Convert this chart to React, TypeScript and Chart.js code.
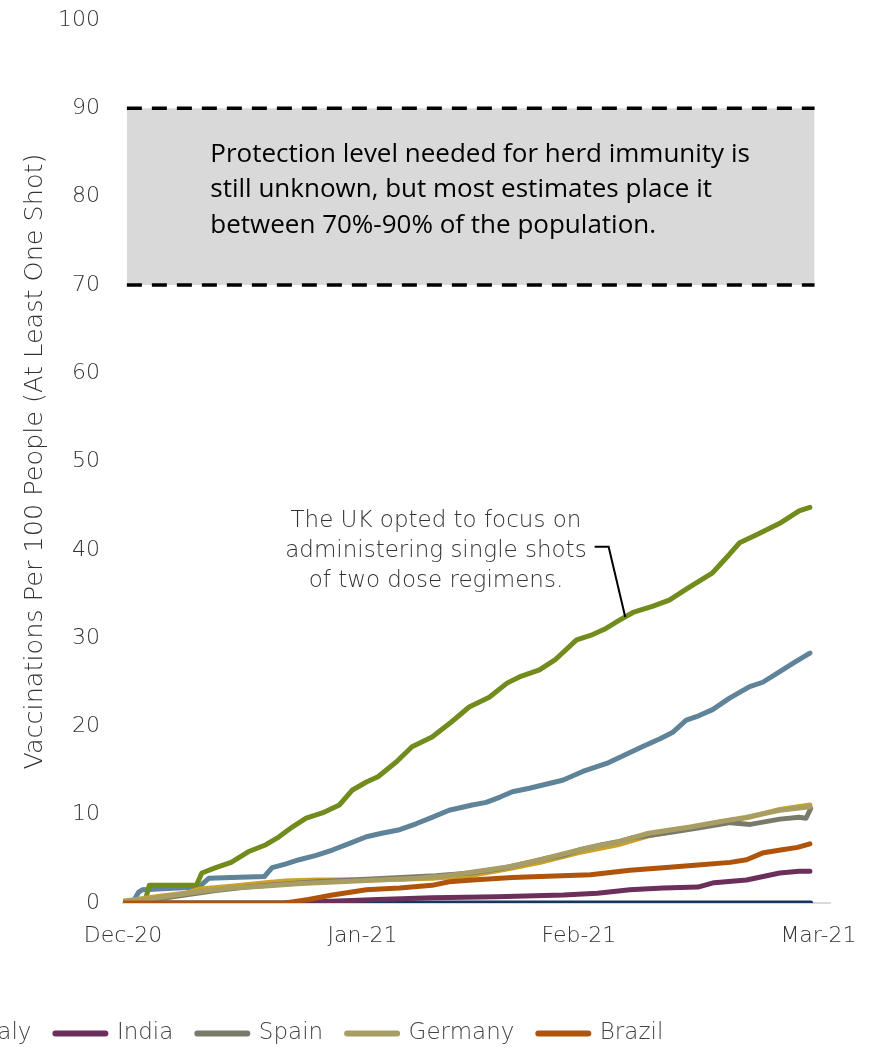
import { useEffect, useRef } from "react";
import { Chart, registerables } from "chart.js";

Chart.register(...registerables);

// Days counted from the first x-axis tick; ticks sit at month ends.
const tickDays = [0, 31, 59, 90];
const tickLabels = ["Dec-20", "Jan-21", "Feb-21", "Mar-21"];

const ukDays = [2.8, 3.4, 9.5, 10.2, 12, 14, 16.2, 18.5, 20.2, 21.9, 23.7, 25.8, 28, 29.7, 31.5, 33, 35.4, 37.4, 40, 42.5, 44.8, 47.4, 49.7, 51.3, 53.9, 56, 58.7, 60.5, 62.3, 64.2, 66, 68.5, 70.7, 73, 76.3, 78.5, 79.8, 82, 85, 87.5, 88.9];
const ukValues = [0, 2.0, 2.0, 3.4, 4.0, 4.6, 5.8, 6.6, 7.5, 8.6, 9.6, 10.2, 11.1, 12.8, 13.7, 14.3, 16.0, 17.7, 18.8, 20.5, 22.2, 23.3, 24.9, 25.6, 26.4, 27.6, 29.8, 30.3, 31.0, 32.0, 32.9, 33.6, 34.3, 35.6, 37.4, 39.5, 40.8, 41.7, 43.0, 44.4, 44.8];

const usDays = [1.2, 2.0, 2.5, 9.8, 11.1, 14.1, 18.3, 19.3, 21, 22.8, 25, 27.1, 29.5, 31.5, 33.5, 35.8, 38, 40, 42.2, 45.2, 47, 48.8, 50.4, 52.6, 55, 56.9, 59.5, 62.6, 65, 67.2, 69.5, 71.1, 72.9, 74.5, 76.3, 78.5, 81.1, 82.8, 85, 87, 88.9];
const usValues = [0, 1.2, 1.5, 1.8, 2.8, 2.9, 3.0, 4.0, 4.4, 4.9, 5.4, 6.0, 6.8, 7.5, 7.9, 8.3, 9.0, 9.7, 10.5, 11.1, 11.4, 12.0, 12.6, 13.0, 13.5, 13.9, 14.9, 15.8, 16.8, 17.7, 18.6, 19.3, 20.7, 21.2, 21.9, 23.2, 24.5, 25.0, 26.2, 27.3, 28.3];

const japanDays = [0, 89];
const japanValues = [0, 0];

const italyDays = [0, 5, 8, 10, 14, 18.5, 21, 25, 31, 36, 40, 45, 50, 54, 59, 64, 68, 73, 77, 81, 85, 88.9];
const italyValues = [0.2, 0.8, 1.1, 1.6, 1.9, 2.3, 2.5, 2.6, 2.6, 2.7, 2.8, 3.1, 3.9, 4.6, 5.7, 6.6, 7.6, 8.4, 9.1, 9.7, 10.6, 11.1];

const indiaDays = [21, 27, 33, 40, 48.4, 57, 61.4, 65.6, 69.9, 74.4, 76.5, 80.7, 85, 87.5, 88.9];
const indiaValues = [0, 0.2, 0.4, 0.6, 0.7, 0.9, 1.1, 1.5, 1.7, 1.8, 2.3, 2.6, 3.4, 3.6, 3.6];

const spainDays = [0, 4, 8, 12, 16, 20, 25, 31.5, 36, 40.5, 45, 49, 52.6, 55, 56.9, 59, 62, 63.9, 66, 70.9, 74.4, 78.6, 81.2, 85, 87.5, 88.4, 89];
const spainValues = [0.1, 0.4, 0.9, 1.4, 1.8, 2.1, 2.4, 2.7, 2.9, 3.1, 3.4, 3.9, 4.6, 5.1, 5.4, 6.0, 6.6, 6.9, 7.4, 8.0, 8.5, 9.1, 8.9, 9.5, 9.7, 9.6, 10.7];

const germanyDays = [0, 3, 6, 10, 14, 18, 23, 28, 33, 38, 42, 46, 50, 54, 59, 64, 68, 73.4, 77.2, 80.6, 85, 88.9];
const germanyValues = [0.2, 0.4, 0.8, 1.3, 1.7, 1.9, 2.2, 2.4, 2.6, 2.8, 3.1, 3.6, 4.1, 4.9, 6.0, 6.9, 7.9, 8.6, 9.2, 9.7, 10.5, 10.9];

const brazilDays = [0, 21, 24, 27.1, 31.5, 35.8, 40, 42.2, 45.2, 50.4, 54, 60.5, 65.6, 69.9, 74.4, 78.6, 80.7, 82.9, 85.1, 87.3, 88.9];
const brazilValues = [0, 0, 0.4, 0.9, 1.5, 1.7, 2.0, 2.4, 2.6, 2.9, 3.0, 3.2, 3.7, 4.0, 4.3, 4.6, 4.9, 5.7, 6.0, 6.3, 6.7];

// Herd-immunity band (per 100 people)
const bandDays = [0.5, 89.5];
const bandLow = [70, 70];
const bandHigh = [90, 90];

const legendOrder = ["Italy", "India", "Spain", "Germany", "Brazil"];

const bandNote = [
  "Protection level needed for herd immunity is",
  "still unknown, but most estimates place it",
  "between 70%-90% of the population.",
];
const ukNote = ["The UK opted to focus on", "administering single shots", "of two dose regimens."];
const ukNoteDay = 65;

// Canvas is wider than the page on the left so the legend row starts off-screen.
const SHIFT = 104;
const PAGE_W = 884;
const PAGE_H = 1049;
const CANVAS_H = 1090;

const FONT = "'DejaVu Sans', sans-serif";
const TEXT = "#333333";

const pts = (d: number[], v: number[]) => d.map((x, i) => ({ x, y: v[i] }));

function interp(days: number[], values: number[], d: number) {
  for (let i = 1; i < days.length; i++) {
    if (d <= days[i]) {
      const t = (d - days[i - 1]) / (days[i] - days[i - 1]);
      return values[i - 1] + t * (values[i] - values[i - 1]);
    }
  }
  return values[values.length - 1];
}

const series = (label: string, color: string, d: number[], v: number[]) => ({
  label,
  data: pts(d, v),
  borderColor: color,
  backgroundColor: color,
  borderWidth: 5,
  borderCapStyle: "round" as const,
  borderJoinStyle: "round" as const,
  pointRadius: 0,
  tension: 0,
  fill: false,
});

const notesPlugin = {
  id: "notes",
  afterDatasetsDraw(chart: any) {
    const { ctx, scales } = chart;
    const x = scales.x;
    const y = scales.y;
    ctx.save();

    // text inside the band
    ctx.font = "26px 'Open Sans', sans-serif";
    ctx.fillStyle = "#000000";
    ctx.textAlign = "left";
    ctx.textBaseline = "middle";
    const bx = x.getPixelForValue(11.3);
    const by = y.getPixelForValue(84.8);
    bandNote.forEach((t, i) => ctx.fillText(t, bx, by + i * 35.5));

    // UK callout
    ctx.font = `200 23px ${FONT}`;
    ctx.fillStyle = TEXT;
    ctx.textAlign = "center";
    const cx = x.getPixelForValue(40.5);
    const cy = y.getPixelForValue(43.3);
    ukNote.forEach((t, i) => ctx.fillText(t, cx, cy + i * 30));
    const w2 = ctx.measureText(ukNote[1]).width;
    const sx = cx + w2 / 2 + 8;
    const sy = cy + 30 - 4;
    const tx = x.getPixelForValue(ukNoteDay);
    const ty = y.getPixelForValue(interp(ukDays, ukValues, ukNoteDay));
    ctx.strokeStyle = "#000000";
    ctx.lineWidth = 2;
    ctx.beginPath();
    ctx.moveTo(sx, sy);
    ctx.lineTo(sx + 14, sy);
    ctx.lineTo(tx, ty);
    ctx.stroke();
    ctx.restore();
  },
};

export default function App() {
  const ref = useRef<HTMLCanvasElement>(null);

  useEffect(() => {
    if (!ref.current) return;
    const dashed = {
      borderColor: "#000000",
      borderWidth: 3.5,
      borderDash: [15, 10],
      pointRadius: 0,
      tension: 0,
    };
    const chart = new Chart(ref.current, {
      type: "line",
      data: {
        datasets: [
          series("Brazil", "#b0530b", brazilDays, brazilValues),
          series("Germany", "#a89e63", germanyDays, germanyValues),
          series("Spain", "#7a7a6c", spainDays, spainValues),
          series("Italy", "#cda22a", italyDays, italyValues),
          series("India", "#6c2f5c", indiaDays, indiaValues),
          series("United Kingdom", "#718b1c", ukDays, ukValues),
          series("United States", "#5f8399", usDays, usValues),
          series("Japan", "#17375e", japanDays, japanValues),
          { label: "90", data: pts(bandDays, bandHigh), fill: false, ...dashed },
          {
            label: "70",
            data: pts(bandDays, bandLow),
            fill: { value: 90 },
            backgroundColor: "#d9d9d9",
            ...dashed,
          },
        ] as any,
      },
      options: {
        animation: false,
        responsive: true,
        maintainAspectRatio: false,
        devicePixelRatio: 1,
        layout: { padding: { left: 0, right: 54, top: 20, bottom: 35 } },
        scales: {
          x: {
            type: "linear",
            min: 0,
            max: 91.5,
            afterBuildTicks: (s: any) => {
              s.ticks = tickDays.map((v) => ({ value: v }));
            },
            afterFit: (s: any) => {
              s.height = 95;
            },
            ticks: {
              autoSkip: false,
              maxRotation: 0,
              padding: 20,
              color: TEXT,
              font: { family: FONT, size: 22, weight: "200" as any },
              callback: (_v: any, i: number) => tickLabels[i],
            },
            grid: { display: false, drawTicks: false },
            border: { display: true, color: "#d9d9d9", width: 2 },
          },
          y: {
            min: 0,
            max: 100,
            afterFit: (s: any) => {
              s.width = SHIFT + 123;
              s.paddingTop = 0;
              s.paddingBottom = 0;
            },
            ticks: {
              stepSize: 10,
              padding: 23,
              color: TEXT,
              font: { family: FONT, size: 22, weight: "200" as any },
            },
            grid: { display: false, drawTicks: false },
            border: { display: false },
            title: {
              display: true,
              text: "Vaccinations Per 100 People (At Least One Shot)",
              color: TEXT,
              font: { family: FONT, size: 25.5, weight: "200" as any },
              padding: { top: SHIFT + 35 - 15.3, bottom: 0 },
            },
          },
        } as any,
        plugins: {
          tooltip: { enabled: false },
          legend: {
            position: "bottom",
            align: "start",
            labels: {
              usePointStyle: true,
              pointStyle: "line",
              pointStyleWidth: 50,
              boxHeight: 22,
              padding: 24,
              color: "#444444",
              font: { family: FONT, size: 23, weight: "200" as any },
              generateLabels: (c: any) =>
                Chart.defaults.plugins.legend.labels.generateLabels(c).map((l: any) => ({
                  ...l,
                  lineWidth: 6,
                  lineCap: "round",
                  strokeStyle: c.data.datasets[l.datasetIndex].borderColor,
                  pointStyle: "line",
                })),
              filter: (item: any) => legendOrder.includes(item.text),
              sort: (a: any, b: any) => legendOrder.indexOf(a.text) - legendOrder.indexOf(b.text),
            },
          },
        },
      },
      plugins: [notesPlugin],
    });
    return () => chart.destroy();
  }, []);

  return (
    <div
      style={{
        position: "fixed",
        left: 0,
        top: 0,
        width: PAGE_W,
        height: PAGE_H,
        overflow: "hidden",
        background: "#ffffff",
      }}
    >
      <div style={{ position: "absolute", left: -SHIFT, top: 0, width: PAGE_W + SHIFT, height: CANVAS_H }}>
        <canvas ref={ref} />
      </div>
    </div>
  );
}
